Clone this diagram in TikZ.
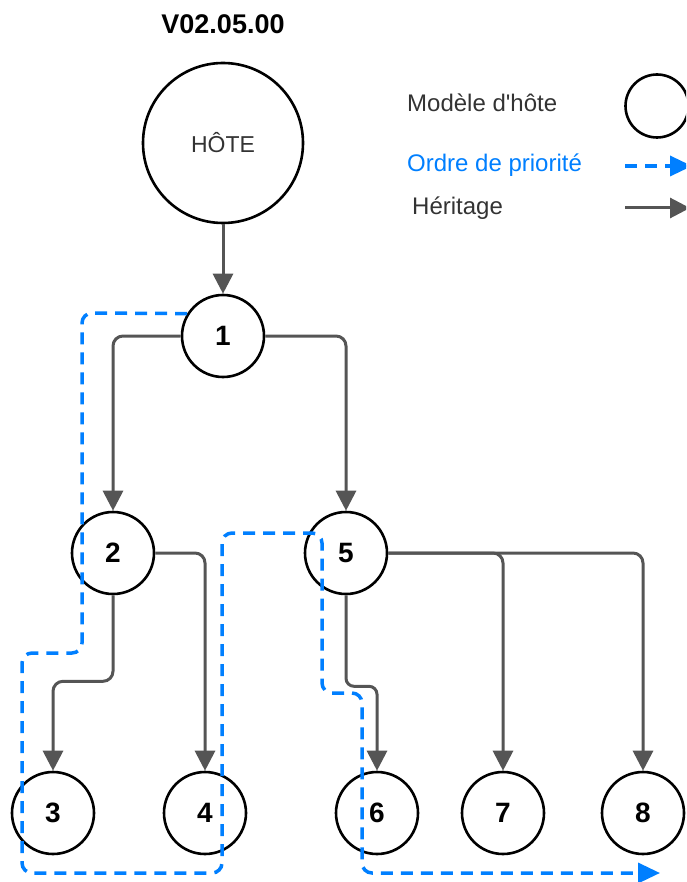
\documentclass[tikz,border=0pt]{standalone}
\usepackage{fontspec}
\setmainfont{Liberation Sans}
\usetikzlibrary{arrows.meta}
\definecolor{gris}{RGB}{85,85,85}
\definecolor{bleu}{RGB}{0,127,255}
\definecolor{texte}{RGB}{51,51,51}
\tikzset{
    noeud/.style={draw, circle, line width=2.6pt, minimum size=82pt, inner sep=0pt, font=\fontsize{28}{32}\selectfont\bfseries},
    herit/.style={draw=gris, line width=3pt, rounded corners=10pt, -{Triangle[length=20pt,width=20pt]}},
    prio/.style={draw=bleu, line width=3.5pt, dash pattern=on 12pt off 8pt, rounded corners=10pt, -{Triangle[length=22pt,width=20pt]}},
    legende/.style={anchor=west, inner sep=0pt, font=\fontsize{24}{28}\selectfont}
}

\begin{document}
\begin{tikzpicture}[x=1pt, y=-1pt]
        \useasboundingbox (0,0) rectangle (686,882);
        \clip (0,0) rectangle (686,882);

        % title and host
        \node[font=\fontsize{27}{32}\selectfont\bfseries] (titre) at (223,24) {V02.05.00};
        \node[noeud, minimum size=160pt, font=\fontsize{23}{28}\selectfont, text=texte] (hote) at (223,143) {HÔTE};

        % models
        \node[noeud] (n1) at (223,336) {1};
        \node[noeud] (n2) at (113,553) {2};
        \node[noeud] (n5) at (346,553) {5};
        \foreach \nom/\x in {3/53, 4/205, 6/377, 7/503, 8/643}
            \node[noeud] (n\nom) at (\x,813) {\nom};

        % inheritance
        \draw[herit] (hote) -- (n1);
        \draw[herit] (n1.west) -| (n2.north);
        \draw[herit] (n1.east) -| (n5.north);
        \draw[herit] (n2.south) -- ++(0,86) -| (n3.north);
        \draw[herit] (n2.east) -| (n4.north);
        \draw[herit, rounded corners=8pt] (n5.south) -- ++(0,91) -| (n6.north);
        \draw[herit] (n5.east) -| (n7.north);
        \draw[herit] (n5.east) -| (n8.north);

        % priority order
        \coordinate (fin) at (660,873);
        \draw[prio] (n1.148) -- (82,313) -- (82,653) -- (22,653) -- (22,873) -- (222,873)
            -- (222,533) -- (322,533) -- (322,693) -- (362,693) -- (362,873) -- (fin);

        % legend
        \node[legende, text=texte] (legModele) at (407,103) {Modèle d\textquotesingle hôte};
        \node[noeud, minimum size=63pt] (legCercle) at (657,106) {};
        \node[legende, text=bleu] (legPrio) at (407,165) {Ordre de priorité};
        \node[legende, text=texte] (legHerit) at (412,208) {Héritage};
        \coordinate (prioA) at (625,166);
        \coordinate (prioB) at (692,166);
        \draw[prio] (prioA) -- (prioB);
        \coordinate (heritA) at (625,208);
        \coordinate (heritB) at (690,208);
        \draw[herit] (heritA) -- (heritB);
\end{tikzpicture}
\end{document}
